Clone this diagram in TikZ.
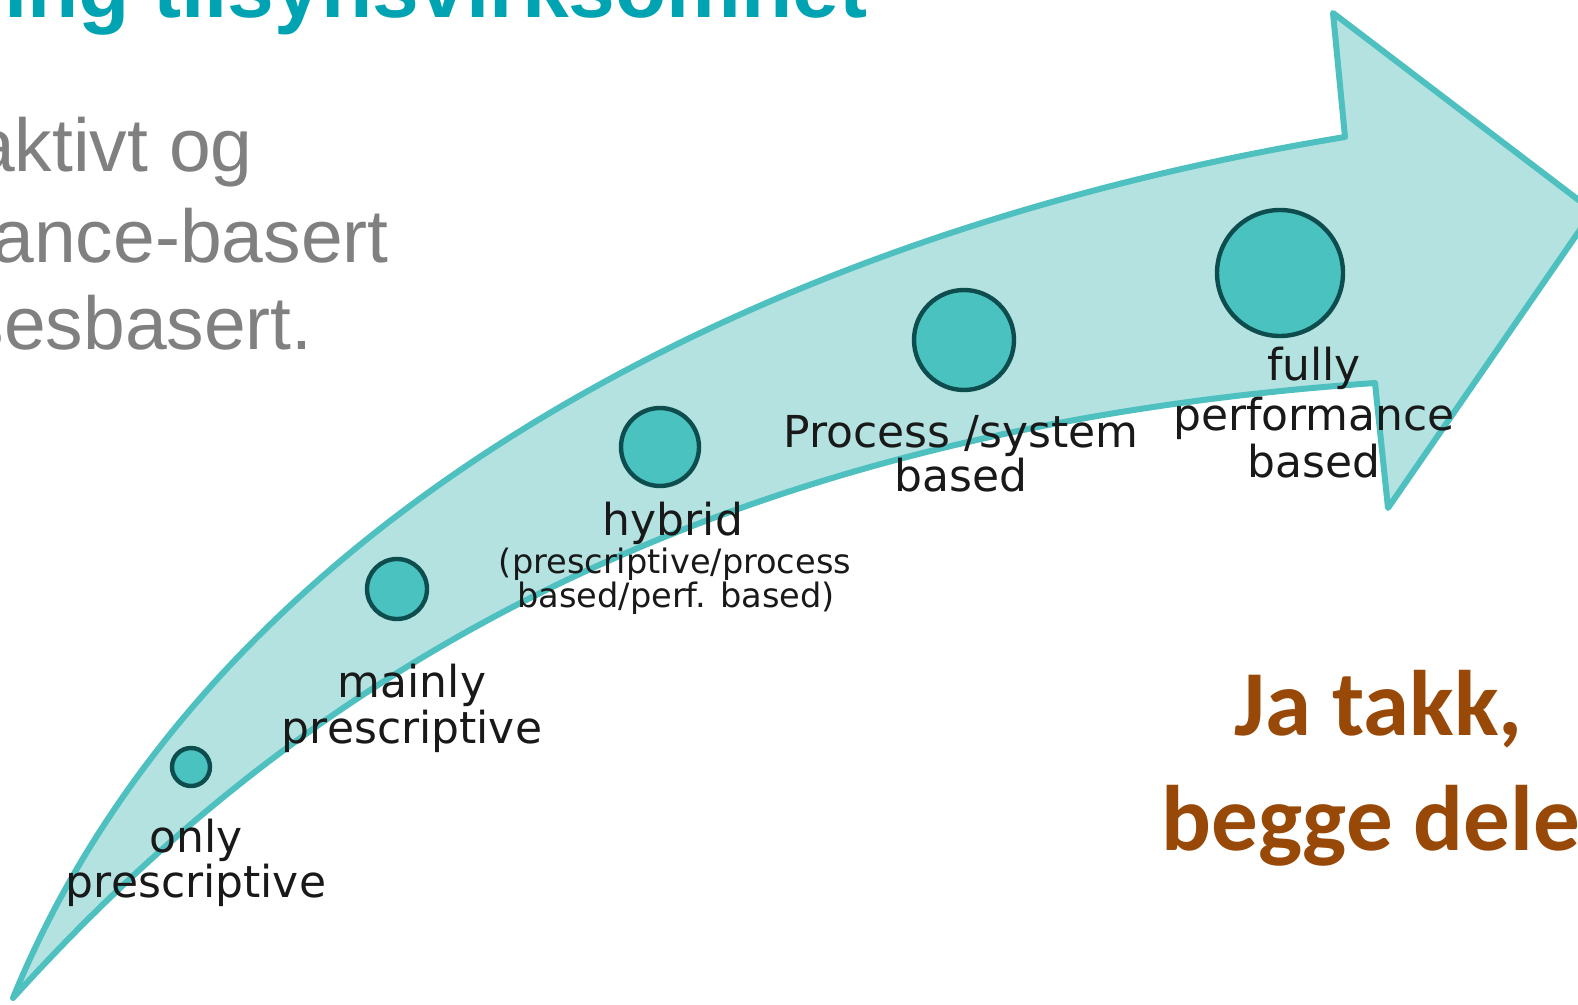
\documentclass[tikz,border=0pt]{standalone}
\usepackage{fontspec}
\newfontfamily\lblfont{DejaVu Sans}
\newfontfamily\arialfont{Liberation Sans}
\newfontfamily\calfont{Carlito}
\definecolor{arrowfill}{HTML}{B3E2E1}
\definecolor{arrowline}{HTML}{4DC0BF}
\definecolor{dotfill}{HTML}{4AC2C0}
\definecolor{dotline}{HTML}{0E4D4D}
\definecolor{titleteal}{HTML}{00A3B2}
\definecolor{graytext}{HTML}{808080}
\definecolor{brownish}{HTML}{984807}
\tikzset{
  dot/.style={circle, fill=dotfill, draw=dotline, line width=2.2pt, inner sep=0pt},
  lbl/.style={font=\lblfont\fontsize{22}{26}\selectfont, text=black!90, inner sep=0pt, anchor=base},
  lblsmall/.style={font=\lblfont\fontsize{16.8}{19}\selectfont, text=black!90, inner sep=0pt, anchor=base},
  titletext/.style={font=\arialfont\bfseries\fontsize{42}{48}\selectfont, text=titleteal, inner sep=0pt, anchor=base east},
  graytxt/.style={font=\arialfont\fontsize{37.5}{44}\selectfont, text=graytext, inner sep=0pt, anchor=base east},
  brown/.style={font=\calfont\bfseries\fontsize{46.5}{56}\selectfont, text=brownish, inner sep=0pt, anchor=base west}
}
\begin{document}
\begin{tikzpicture}[x=0.5pt,y=-0.5pt]
\useasboundingbox (0,0) rectangle (1578,1005);
\clip (0,0) rectangle (1578,1005);
\fill[white] (0,0) rectangle (1578,1005);
% curved arrow
\draw[fill=arrowfill, draw=arrowline, line width=3pt, line join=round]
  (13,998) .. controls (200,540) and (720,240) .. (1345,137)
  -- (1333,13) -- (1593,211) -- (1388,508) -- (1375,383)
  .. controls (700,430) and (300,680) .. (13,998) -- cycle;
% circles
\node[dot, minimum size=19pt] (c1) at (191,767) {};
\node[dot, minimum size=30pt] (c2) at (397,589) {};
\node[dot, minimum size=39pt] (c3) at (660,447) {};
\node[dot, minimum size=50pt] (c4) at (964,340) {};
\node[dot, minimum size=63pt] (c5) at (1280,273) {};
% labels
\node[lbl] (l1a) at (196,852) {only};
\node[lbl] (l1b) at (196,897) {prescriptive};
\node[lbl] (l2a) at (412,697) {mainly};
\node[lbl] (l2b) at (412,743) {prescriptive};
\node[lbl] (l3a) at (673,535) {hybrid};
\node[lblsmall] (l3b) at (675,573) {(prescriptive/process};
\node[lblsmall] (l3c) at (676,607) {based/perf. based)};
\node[lbl] (l4a) at (961,447) {Process /system};
\node[lbl] (l4b) at (961,491) {based};
\node[lbl] (l5a) at (1314,380) {fully};
\node[lbl] (l5b) at (1314,430) {performance};
\node[lbl] (l5c) at (1314,477) {based};
% cut-off texts
\node[titletext] (title) at (868,18) {ing tilsynsvirksomhet};
\node[graytxt] (g1) at (253,172) {aktivt og};
\node[graytxt] (g2) at (389,263) {ance-basert};
\node[graytxt] (g3) at (313,350) {sesbasert.};
\node[brown] (b1) at (1234,735) {Ja takk,};
\node[brown] (b2) at (1161,850) {begge dele};
\end{tikzpicture}
\end{document}
